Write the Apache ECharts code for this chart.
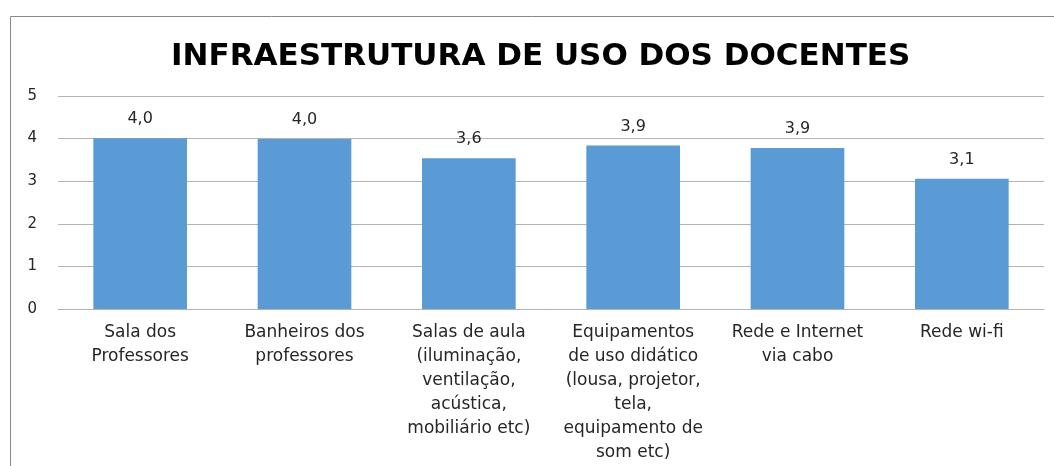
<!DOCTYPE html>
<html lang="pt">
<head>
	<meta charset="UTF-8">
	<title>Infraestrutura de uso dos docentes</title>
	<script src="https://cdn.jsdelivr.net/npm/echarts@6/dist/echarts.min.js"></script>
	<style>
		html, body { margin: 0; padding: 0; background: #fff; }
		#chart { width: 1054px; height: 466px; }
	</style>
</head>
<body>
<div id="chart"></div>
<script>
	// categorias (quebras de linha como no original)
	var categorias = [
		'Sala dos\nProfessores',
		'Banheiros dos\nprofessores',
		'Salas de aula\n(iluminação,\nventilação,\nacústica,\nmobiliário etc)',
		'Equipamentos\nde uso didático\n(lousa, projetor,\ntela,\nequipamento de\nsom etc)',
		'Rede e Internet\nvia cabo',
		'Rede wi-fi'
	];
	// altura das barras
	var valores = [4.01, 3.99, 3.54, 3.84, 3.78, 3.06];
	// rótulos de dados como aparecem no gráfico
	var rotulos = ['4,0', '4,0', '3,6', '3,9', '3,9', '3,1'];
	var ticksY = [0, 1, 2, 3, 4, 5];

	var fonte = '"DejaVu Sans", "Open Sans", sans-serif';
	var chart = echarts.init(document.getElementById('chart'));

	var option = {
		backgroundColor: '#fff',
		animation: false,
		title: {
			text: 'INFRAESTRUTURA DE USO DOS DOCENTES',
			left: 166,
			top: 36,
			textStyle: {
				fontFamily: fonte,
				fontSize: 31,
				fontWeight: 'bold',
				color: '#000'
			}
		},
		// moldura do gráfico (só topo e esquerda ficam visíveis)
		graphic: [{
			type: 'rect',
			shape: { x: 10.5, y: 16.5, width: 1100, height: 500 },
			style: { fill: 'none', stroke: '#898989', lineWidth: 1 },
			silent: true
		}],
		grid: {
			left: 58,
			right: 10,
			top: 96,
			bottom: 157
		},
		xAxis: {
			type: 'category',
			data: categorias,
			axisLine: { lineStyle: { color: '#b3b3b3', width: 1 } },
			axisTick: { show: false },
			axisLabel: {
				interval: 0,
				margin: 12,
				fontFamily: fonte,
				fontSize: 17,
				lineHeight: 24,
				color: '#262626',
				align: 'center'
			}
		},
		yAxis: {
			type: 'value',
			min: ticksY[0],
			max: ticksY[ticksY.length - 1],
			interval: 1,
			axisLine: { show: false },
			axisTick: { show: false },
			splitLine: { lineStyle: { color: '#b3b3b3', width: 1 } },
			axisLabel: {
				margin: 21,
				fontFamily: fonte,
				fontSize: 15,
				color: '#262626'
			}
		},
		series: [{
			type: 'bar',
			data: valores,
			barWidth: '57%',
			itemStyle: { color: '#5b9bd5' },
			label: {
				show: true,
				position: 'top',
				distance: 11,
				fontFamily: fonte,
				fontSize: 16,
				color: '#262626',
				formatter: function (p) { return rotulos[p.dataIndex]; }
			}
		}]
	};
	chart.setOption(option);
</script>
</body>
</html>
